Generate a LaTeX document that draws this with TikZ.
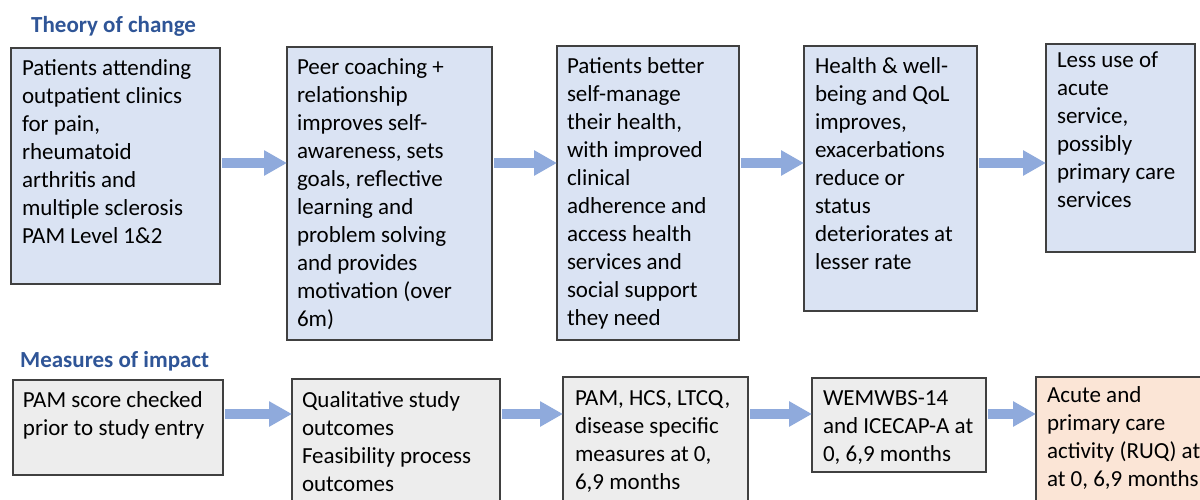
\documentclass[tikz,border=0pt]{standalone}
\usepackage{fontspec}
\setmainfont{Carlito}
\usetikzlibrary{arrows.meta}
\definecolor{titleblue}{HTML}{2F5597}
\definecolor{boxblue}{HTML}{DAE3F3}
\definecolor{boxgray}{HTML}{EDEDED}
\definecolor{boxpeach}{HTML}{FBE5D6}
\definecolor{edgegray}{HTML}{404040}
\definecolor{arrowblue}{HTML}{8FAADC}
\newcommand\firststrut{\rule{0pt}{18pt}}
\begin{document}
\begin{tikzpicture}[x=1pt,y=-1pt,
  box/.style={draw=edgegray, line width=1.5pt, rectangle, anchor=north west, inner sep=0pt, outer sep=0pt},
  topbox/.style={box, fill=boxblue},
  botbox/.style={box, fill=boxgray},
  endbox/.style={box, fill=boxpeach},
  boxtext/.style={anchor=north west, inner sep=0pt, outer sep=0pt, align=left, font=\fontsize{23}{28}\selectfont},
  heading/.style={anchor=base west, inner sep=0pt, font=\fontsize{23}{28}\selectfont\bfseries, text=titleblue},
  flow/.style={draw=arrowblue, line width=10pt, -{Triangle[width=24pt,length=23pt]}, shorten <=2pt}
]
\clip (0,0) rectangle (1200,499);
\fill[white] (0,0) rectangle (1200,499);
\coordinate (ytop) at (0,163);
\coordinate (ybot) at (0,414);

% headings
\node[heading] (h1) at (31,32) {Theory of change};
\node[heading] (h2) at (20,367) {Measures of impact};

% top row boxes
\node[topbox, minimum width=209pt, minimum height=236pt] (t1) at (11,48) {};
\node[topbox, minimum width=205pt, minimum height=293pt] (t2) at (287,47) {};
\node[topbox, minimum width=182pt, minimum height=294pt] (t3) at (557,46) {};
\node[topbox, minimum width=173pt, minimum height=265pt] (t4) at (804,46) {};
\node[topbox, minimum width=149pt, minimum height=208pt] (t5) at (1046,44) {};

\node[boxtext] (t1x) at (22,57) {\firststrut Patients attending\\outpatient clinics\\for pain,\\rheumatoid\\arthritis and\\multiple sclerosis\\PAM Level 1\&2};
\node[boxtext] (t2x) at (297,56) {\firststrut Peer coaching +\\relationship\\improves self-\\awareness, sets\\goals, reflective\\learning and\\problem solving\\and provides\\motivation (over\\6m)};
\node[boxtext] (t3x) at (567,55) {\firststrut Patients better\\self-manage\\their health,\\with improved\\clinical\\adherence and\\access health\\services and\\social support\\they need};
\node[boxtext] (t4x) at (815,55) {\firststrut Health \& well-\\being and QoL\\improves,\\exacerbations\\reduce or\\status\\deteriorates at\\lesser rate};
\node[boxtext] (t5x) at (1057,49) {\firststrut Less use of\\acute\\service,\\possibly\\primary care\\services};

% bottom row boxes
\node[botbox, minimum width=210pt, minimum height=95pt] (b1) at (13,380) {};
\node[botbox, minimum width=208pt, minimum height=140pt] (b2) at (292,379) {};
\node[botbox, minimum width=185pt, minimum height=140pt] (b3) at (563,377) {};
\node[botbox, minimum width=174pt, minimum height=94pt] (b4) at (812,378) {};
\node[endbox, minimum width=200pt, minimum height=140pt] (b5) at (1036,377) {};

\node[boxtext] (b1x) at (23,389) {\firststrut PAM score checked\\prior to study entry};
\node[boxtext] (b2x) at (302,389) {\firststrut Qualitative study\\outcomes\\Feasibility process\\outcomes};
\node[boxtext] (b3x) at (575,387) {\firststrut PAM, HCS, LTCQ,\\disease specific\\measures at 0,\\6,9 months};
\node[boxtext] (b4x) at (823,387) {\firststrut WEMWBS-14\\and ICECAP-A at\\0, 6,9 months};
\node[boxtext] (b5x) at (1047,384) {\firststrut Acute and\\primary care\\activity (RUQ) at\\at 0, 6,9 months};

% arrows
\draw[flow] (t1.east |- ytop) -- (t2.west |- ytop);
\draw[flow] (t2.east |- ytop) -- (t3.west |- ytop);
\draw[flow] (t3.east |- ytop) -- (t4.west |- ytop);
\draw[flow] (t4.east |- ytop) -- (t5.west |- ytop);
\draw[flow] (b1.east |- ybot) -- (b2.west |- ybot);
\draw[flow] (b2.east |- ybot) -- (b3.west |- ybot);
\draw[flow] (b3.east |- ybot) -- (b4.west |- ybot);
\draw[flow] (b4.east |- ybot) -- (b5.west |- ybot);
\end{tikzpicture}
\end{document}
